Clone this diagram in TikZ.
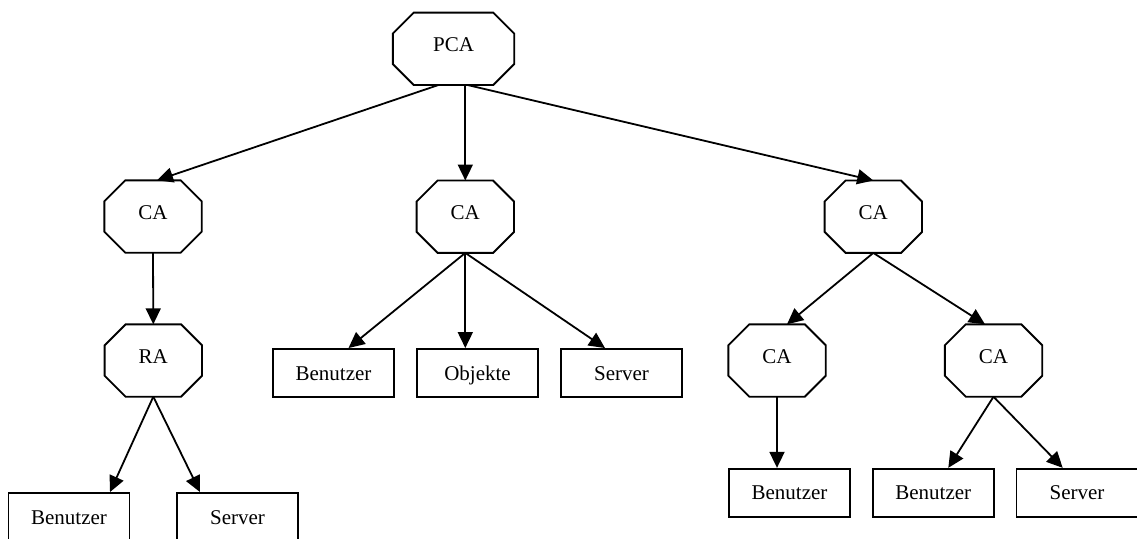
\documentclass[tikz,border=0pt]{standalone}
\usepackage{fontspec}
\setmainfont{Liberation Serif}
\usetikzlibrary{arrows.meta,calc}
\tikzset{
  octbox/.style={draw=none, minimum width=97pt, minimum height=72pt, inner sep=0pt,
    font=\fontsize{21}{24}\selectfont, text height=14pt, text depth=8pt},
  rectbox/.style={draw, line width=1.9pt, minimum width=121pt, minimum height=48pt, inner sep=0pt,
    font=\fontsize{21}{24}\selectfont, text height=14pt, text depth=0pt},
  octline/.style={line width=1.9pt, line join=miter},
  conn/.style={line width=1.8pt, -{Triangle[length=16pt,width=15pt]}}
}
\newcommand\drawoct[1]{%
  \draw[octline] ([xshift=21pt]#1.north west) -- ([xshift=-21pt]#1.north east)
    -- ([yshift=-21pt]#1.north east) -- ([yshift=21pt]#1.south east)
    -- ([xshift=-21pt]#1.south east) -- ([xshift=21pt]#1.south west)
    -- ([yshift=21pt]#1.south west) -- ([yshift=-21pt]#1.north west) -- cycle;}
\begin{document}
\begin{tikzpicture}[x=1pt,y=-1pt]
\useasboundingbox (0,0) rectangle (1137,538);
% octagon nodes
\node[octbox, minimum width=121pt] (pca) at (453.5,48.8) {PCA};
\node[octbox] (ca1) at (153,216.5) {CA};
\node[octbox] (ca2) at (465.3,216.7) {CA};
\node[octbox] (ca3) at (873.3,216.7) {CA};
\node[octbox] (ra)  at (153.3,360.5) {RA};
\node[octbox] (ca4) at (777,360.5) {CA};
\node[octbox] (ca5) at (993.5,360.5) {CA};
\foreach \n in {pca,ca1,ca2,ca3,ra,ca4,ca5} {\drawoct{\n}}
% boxes
\node[rectbox] (b1) at (69,517) {Benutzer};
\node[rectbox] (s1) at (237.5,517) {Server};
\node[rectbox] (b2) at (333.5,373) {Benutzer};
\node[rectbox] (o2) at (477.5,373) {Objekte};
\node[rectbox] (s2) at (621.5,373) {Server};
\node[rectbox] (b4) at (789.5,492.8) {Benutzer};
\node[rectbox] (b5) at (933.3,492.8) {Benutzer};
\node[rectbox] (s5) at (1077,492.8) {Server};
% connectors
\draw[conn] ($(pca.south)+(-15,0)$) -- ($(ca1.north)+(4,0)$);
\draw[conn] ($(pca.south)+(11.8,0)$) -- (ca2.north);
\draw[conn] ($(pca.south)+(14,0)$) -- (ca3.north);
\draw[conn] (ca1.south) -- (ra.north);
\draw[conn] (ra.south) -- ($(b1.north)+(41,0)$);
\draw[conn] (ra.south) -- ($(s1.north)+(-37.5,0)$);
\draw[conn] (ca2.south) -- ($(b2.north)+(15,0)$);
\draw[conn] (ca2.south) -- ($(o2.north)+(-12.2,0)$);
\draw[conn] (ca2.south) -- ($(s2.north)+(-16.5,0)$);
\draw[conn] (ca3.south) -- ($(ca4.north)+(10,0)$);
\draw[conn] (ca3.south) -- ($(ca5.north)+(-8.5,0)$);
\draw[conn] (ca4.south) -- ($(b4.north)+(-12.5,0)$);
\draw[conn] (ca5.south) -- ($(b5.north)+(15,0)$);
\draw[conn] (ca5.south) -- ($(s5.north)+(-14.3,0)$);
\end{tikzpicture}
\end{document}
